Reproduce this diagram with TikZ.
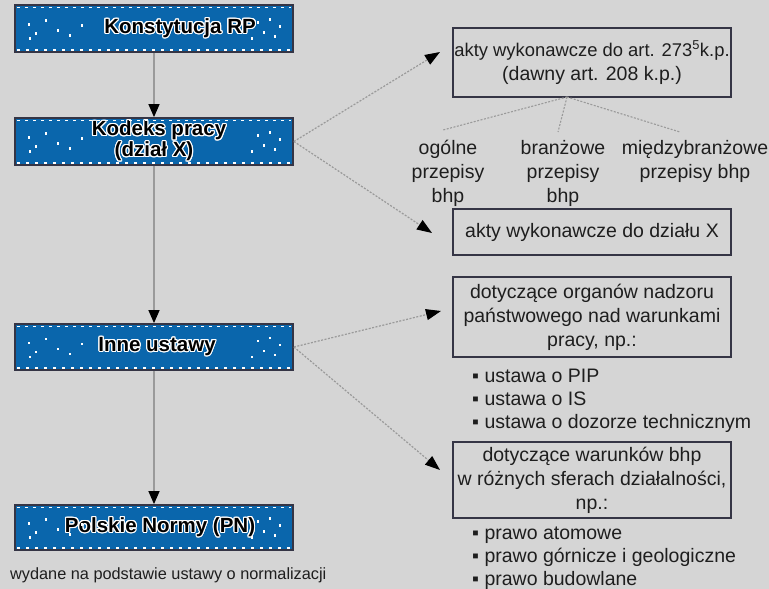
\documentclass[tikz,border=0pt]{standalone}
\usepackage{fontspec}
\setmainfont{Liberation Sans}
\usepackage{contour}
\contourlength{1.1pt}
\usetikzlibrary{arrows.meta,calc}
\definecolor{bg}{HTML}{D5D5D5}
\definecolor{boxblue}{HTML}{0A66AC}
\definecolor{boxline}{HTML}{353545}
\definecolor{conn}{HTML}{9A9A9A}
\definecolor{txt}{HTML}{1E1E1E}
\tikzset{
  bluebox/.style={draw=boxline, line width=1.8pt, fill=boxblue, minimum width=278pt, inner sep=0pt, font=\fontsize{20.5}{22}\selectfont\bfseries, text=black, align=center},
  greybox/.style={draw=boxline, line width=1.3pt, minimum width=278pt, inner sep=0pt, font=\fontsize{19.5}{24}\selectfont, text=txt, align=center},
  plain/.style={font=\fontsize{19.5}{24}\selectfont, text=txt, align=center, inner sep=0pt},
  bull/.style={font=\fontsize{19.5}{23}\selectfont, text=txt, align=left, inner sep=0pt, anchor=north west},
  vconn/.style={draw=conn, line width=1.3pt, -{Triangle[length=13pt,width=11pt,color=black]}},
  dconn/.style={draw=conn, line width=1.2pt, dash pattern=on 2pt off 1.5pt, -{Triangle[length=15pt,width=11pt,color=black]}},
  sconn/.style={draw=conn, line width=1.1pt, dash pattern=on 2pt off 1.5pt},
  speck/.style={fill=white, draw=none}
}
\newcommand{\halo}[1]{\contour{white}{#1}}
\begin{document}
\begin{tikzpicture}[x=1pt,y=-1pt]
\fill[bg] (0,0) rectangle (769,589);
\useasboundingbox (0,0) rectangle (769,589);

% blue boxes
\node[bluebox, minimum height=47pt] (kon) at (154,28.5) {\hspace*{52pt}\halo{Konstytucja RP}};
\node[bluebox, minimum height=47pt] (kod) at (154,141.5) {\hspace*{10pt}\halo{Kodeks pracy}\\[-1pt]\halo{(dział X)}};
\node[bluebox, minimum height=46pt] (inne) at (154,347) {\hspace*{6pt}\halo{Inne ustawy}};
\node[bluebox, minimum height=45pt] (pn) at (154,527.5) {\hspace*{12pt}\halo{Polskie Normy (PN)}};

% speckles and inner dashed edges
\foreach \b in {kon,kod,inne,pn}{
  \draw[white, line width=1.2pt, dash pattern=on 3pt off 5pt] ($(\b.north west)+(3,3)$) -- ($(\b.north east)+(-3,3)$);
  \draw[white, line width=1.2pt, dash pattern=on 3pt off 6pt] ($(\b.south west)+(3,-3)$) -- ($(\b.south east)+(-3,-3)$);
  \foreach \dx/\dy in {-125/-4, -118/5, -108/-8, -96/2, -84/7, -72/-3, -124/10, 104/-6, 110/4, 116/-9, 121/8, 126/-2, 98/10}{
    \fill[speck] ($(\b.center)+(\dx,\dy)+(-1.3,-1.3)$) rectangle ++(2.6,2.6);
  }
}

% right boxes
\node[greybox, minimum height=69pt] (a1) at (592,62.5) {{\fontsize{18.4}{24}\selectfont akty wykonawcze do art. 273\textsuperscript{5}k.p.}\\(dawny art. 208 k.p.)};
\node[greybox, minimum height=46pt] (a2) at (592,232) {akty wykonawcze do działu X};
\node[greybox, minimum height=80pt] (a3) at (592,317) {dotyczące organów nadzoru\\państwowego nad warunkami\\pracy, np.:};
\node[greybox, minimum height=76pt] (a4) at (592,480) {dotyczące warunków bhp\\w różnych sferach działalności,\\np.:};

% labels under a1
\node[plain] (l1) at (448,173) {ogólne\\przepisy\\bhp};
\node[plain] (l2) at (563,173) {branżowe\\przepisy\\bhp};
\node[plain] (l3) at (695,161) {międzybranżowe\\przepisy bhp};

% bullet lists
\node[bull] (b1) at (472,369) {▪ ustawa o PIP\\▪ ustawa o IS\\▪ ustawa o dozorze technicznym};
\node[bull] (b2) at (472,527) {▪ prawo atomowe\\▪ prawo górnicze i geologiczne\\▪ prawo budowlane};

% caption
\node[font=\fontsize{16.3}{18}\selectfont, text=txt, anchor=west, inner sep=0pt] (cap) at (10,575) {wydane na podstawie ustawy o normalizacji};

% vertical connectors
\draw[vconn] (kon.south) -- (kod.north);
\draw[vconn] (kod.south) -- (inne.north);
\draw[vconn] (inne.south) -- (pn.north);

% dashed connectors
\coordinate (t1) at (440,52);
\coordinate (t2) at (432,233);
\coordinate (t3) at (441,311);
\coordinate (t4) at (440,470);
\draw[dconn] (kod.east) -- (t1);
\draw[dconn] (kod.east) -- (t2);
\draw[dconn] (inne.east) -- (t3);
\draw[dconn] (inne.east) -- (t4);

% branches from a1
\coordinate (s0) at (567,97);
\coordinate (e1) at (443,130);
\coordinate (e2) at (558,132);
\coordinate (e3) at (680,132);
\draw[sconn] (s0) -- (e1);
\draw[sconn] (s0) -- (e2);
\draw[sconn] (s0) -- (e3);
\end{tikzpicture}
\end{document}
